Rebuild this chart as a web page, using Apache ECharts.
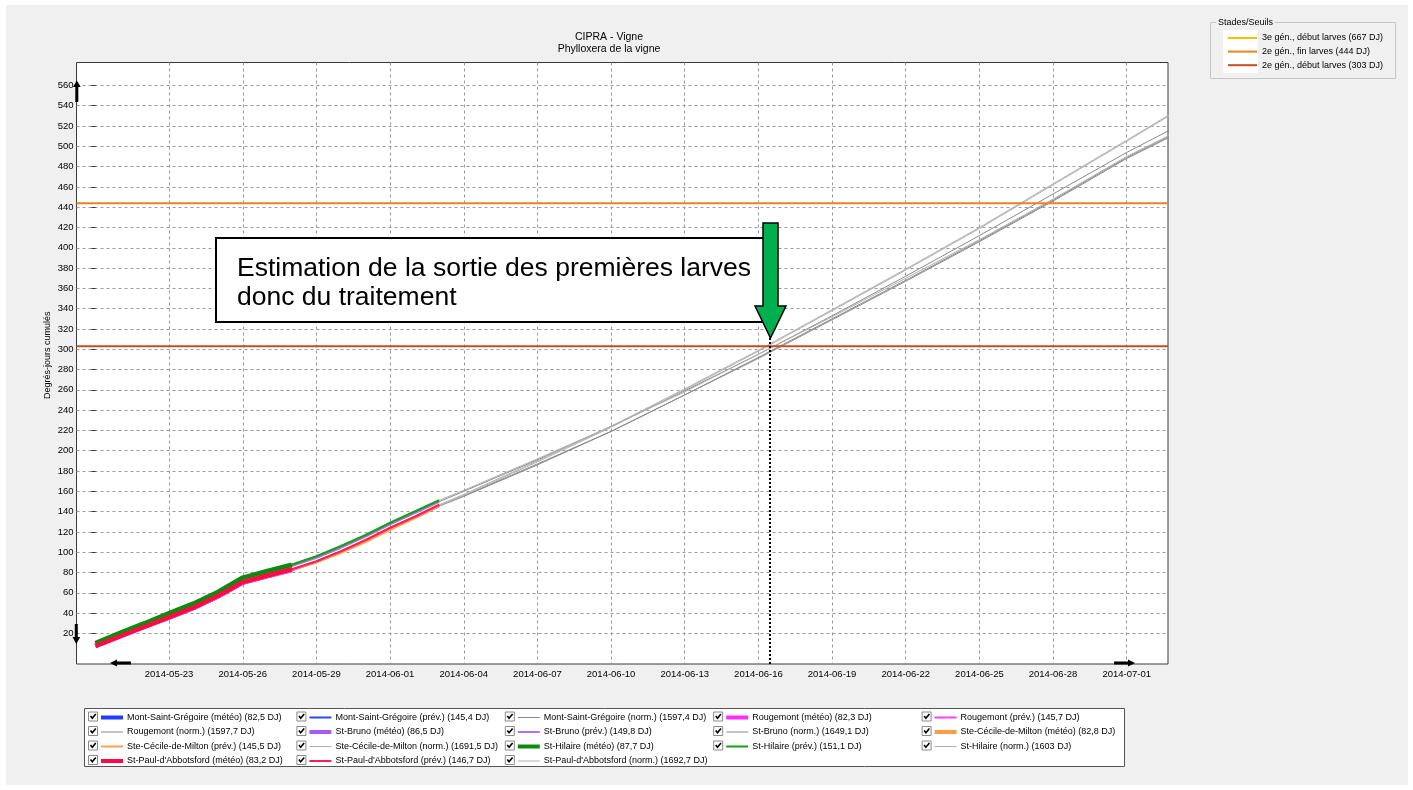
<!DOCTYPE html>
<html><head><meta charset="utf-8">
<script src="https://cdn.jsdelivr.net/npm/echarts@6/dist/echarts.min.js"></script>
<style>html,body{margin:0;padding:0;background:#fff;}#c{width:1413px;height:790px;}</style>
</head><body><div id="c"></div>
<script>
// ---------- DATA ----------
const stations = ['Mont-Saint-Grégoire', 'Rougemont', 'St-Bruno', 'Ste-Cécile-de-Milton', 'St-Hilaire', "St-Paul-d'Abbotsford"];
const meteoDates = ['2014-05-20','2014-05-21','2014-05-22','2014-05-23','2014-05-24','2014-05-25','2014-05-26','2014-05-27','2014-05-28'];
const prevDates  = ['2014-05-28','2014-05-29','2014-05-30','2014-05-31','2014-06-01','2014-06-02','2014-06-03'];
const normDates  = ['2014-06-03','2014-06-04','2014-06-07','2014-06-10','2014-06-13','2014-06-16','2014-06-19','2014-06-22','2014-06-25','2014-06-28','2014-07-01','2014-07-03'];

const meteoMSG   = [8, 17.5, 26.5, 35.5, 45, 56.5, 70, 76.5, 82.5];
const meteoRoug  = [8, 17.5, 26.5, 36, 45, 56.5, 70, 76.5, 82.3];
const meteoBruno = [10, 20, 29.5, 39, 48.5, 60, 73.5, 80.5, 86.5];
const meteoCecile= [8, 17.5, 27, 36, 45.5, 57, 70.5, 77, 82.8];
const meteoHil   = [10.5, 20.5, 30, 40, 49.5, 61, 75, 81.5, 87.7];
const meteoPaul  = [7.5, 17, 26.5, 36, 45.5, 57, 70.5, 77, 83.2];

const prevMSG    = [82.5, 90.5, 100.5, 111, 123, 134, 145.4];
const prevRoug   = [82.3, 90.5, 100.5, 111, 123, 134.5, 145.7];
const prevBruno  = [86.5, 94.5, 104.5, 115.5, 127.5, 138.5, 149.8];
const prevCecile = [82.8, 90, 99.5, 110, 122, 133.5, 145.5];
const prevHil    = [87.7, 96, 106, 117, 129, 140, 151.1];
const prevPaul   = [83.2, 91, 101, 112, 124, 135, 146.7];

const normMSG    = [145.4, 155, 186, 219, 255, 291, 329, 367, 406, 446, 488, 512];
const normRoug   = [145.7, 155.5, 187, 219, 255, 292, 330, 368, 407, 447, 489, 513];
const normBruno  = [149.8, 160, 191, 224, 259, 295, 333, 372, 412, 453, 494, 519];
const normCecile = [145.5, 156, 189, 223, 260, 298, 338, 378, 419, 462, 505, 534];
const normHil    = [151.1, 161, 192, 224, 258, 295, 332, 370, 408, 448, 490, 514];
const normPaul   = [146.7, 157, 190, 224, 261, 299, 339, 379, 420, 463, 506, 535];

const meteoTotals = ['82,5', '82,3', '86,5', '82,8', '87,7', '83,2'];
const prevTotals  = ['145,4', '145,7', '149,8', '145,5', '151,1', '146,7'];
const normTotals  = ['1597,4', '1597,7', '1649,1', '1691,5', '1603', '1692,7'];

const thresholdNames  = ['3e gén., début larves (667 DJ)', '2e gén., fin larves (444 DJ)', '2e gén., début larves (303 DJ)'];
const thresholdValues = [667, 444, 303];

const xTickLabels = ['2014-05-23','2014-05-26','2014-05-29','2014-06-01','2014-06-04','2014-06-07','2014-06-10','2014-06-13','2014-06-16','2014-06-19','2014-06-22','2014-06-25','2014-06-28','2014-07-01'];
const yTicks = [20,40,60,80,100,120,140,160,180,200,220,240,260,280,300,320,340,360,380,400,420,440,460,480,500,520,540,560];

const xRange = ['2014-05-19T05:30', '2014-07-02T16:20'];
const markerDate = '2014-06-16T11:00';
const markerTop = 311;

// ---------- STYLES ----------
const meteoColors = ['#1f3cff', '#ff2dff', '#a45cf2', '#ff9d45', '#0c8a0c', '#ff0a46'];
const prevColors  = ['#2646ff', '#ff3cff', '#b070f5', '#ffa050', '#14a014', '#ff1e50'];
const normColors  = ['#8a8a8a', '#8a8a8a', '#8a8a8a', '#b0b0b0', '#b0b0b0', '#b0b0b0'];
const thresholdColors = ['#f2c200', '#f08026', '#c44f1c'];

const FONT = '"Liberation Sans", Arial, sans-serif';
const BASE = Date.UTC(2014, 4, 20);
function dayNum(s) {
  const [d, t] = s.split('T');
  const [y, m, dd] = d.split('-').map(Number);
  let v = (Date.UTC(y, m - 1, dd) - BASE) / 86400000;
  if (t) { const [hh, mm] = t.split(':').map(Number); v += (hh + mm / 60) / 24; }
  return v;
}
function dayStr(v) {
  const dt = new Date(BASE + Math.round(v) * 86400000);
  const p = n => String(n).padStart(2, '0');
  return dt.getUTCFullYear() + '-' + p(dt.getUTCMonth() + 1) + '-' + p(dt.getUTCDate());
}
const xMin = dayNum(xRange[0]), xMax = dayNum(xRange[1]);
const yMin = -10.2, yMax = 582.6;

const meteoVals = [meteoMSG, meteoRoug, meteoBruno, meteoCecile, meteoHil, meteoPaul];
const prevVals  = [prevMSG, prevRoug, prevBruno, prevCecile, prevHil, prevPaul];
const normVals  = [normMSG, normRoug, normBruno, normCecile, normHil, normPaul];

const series = [];
const legendItems = [];
stations.forEach((st, i) => {
  const defs = [
    {name: st + ' (météo) (' + meteoTotals[i] + ' DJ)', dates: meteoDates, vals: meteoVals[i], color: meteoColors[i], w: 4.5, icon: 4},
    {name: st + ' (prév.) (' + prevTotals[i] + ' DJ)', dates: prevDates, vals: prevVals[i], color: prevColors[i], w: 2.2, icon: 2},
    {name: st + ' (norm.) (' + normTotals[i] + ' DJ)', dates: normDates, vals: normVals[i], color: normColors[i], w: 1, icon: 1}
  ];
  defs.forEach(d => {
    series.push({
      name: d.name, type: 'line', symbol: 'none', showSymbol: false, animation: false,
      color: d.color, itemStyle: {color: d.color},
      lineStyle: {color: d.color, width: d.w},
      data: d.dates.map((dt, k) => [dayNum(dt), d.vals[k]]),
      z: 3
    });
    legendItems.push({name: d.name, icon: 'path://M0,0H22V' + d.icon + 'H0Z'});
  });
});
thresholdNames.forEach((n, i) => {
  series.push({
    name: n, type: 'line', symbol: 'none', showSymbol: false, animation: false,
    color: thresholdColors[i], itemStyle: {color: thresholdColors[i]},
    lineStyle: {color: thresholdColors[i], width: 2},
    data: [[xMin, thresholdValues[i]], [xMax, thresholdValues[i]]],
    z: 4
  });
});
series.push({
  name: 'marker', type: 'line', data: [], animation: false,
  markLine: {
    silent: true, symbol: 'none', label: {show: false},
    lineStyle: {color: '#000', width: 2, type: [2, 2]},
    data: [[{coord: [dayNum(markerDate), markerTop]}, {coord: [dayNum(markerDate), yMin]}]]
  },
  z: 5
});

// legends (5 columns)
const COLS = 5, COL_W = 208.4, LEG_X = 101, ROW_Y0 = 716, ROW_H = 14.5;
const legends = [];
for (let c = 0; c < COLS; c++) {
  legends.push({
    orient: 'vertical', left: LEG_X + c * COL_W, top: ROW_Y0 - 3, padding: 0,
    itemWidth: 22, itemHeight: 9, itemGap: ROW_H - 9,
    selectedMode: false, itemStyle: {borderWidth: 0},
    textStyle: {fontFamily: FONT, fontSize: 9, color: '#000', lineHeight: 9, padding: [0, 0, 0, -1]},
    data: legendItems.filter((_, i) => i % COLS === c)
  });
}
legends.push({
  orient: 'vertical', left: 1228, top: 33.5, padding: 0, itemWidth: 29, itemHeight: 9, itemGap: 4.6,
  selectedMode: false, itemStyle: {borderWidth: 0},
  textStyle: {fontFamily: FONT, fontSize: 9, color: '#000', lineHeight: 9},
  data: thresholdNames.map(n => ({name: n, icon: 'path://M0,0H29V2H0Z'}))
});

// graphics
const graphics = [
  {type: 'rect', z: -10, shape: {x: 6, y: 5, width: 1402, height: 780}, style: {fill: '#f0f0f0'}},
  {type: 'rect', z: -5, shape: {x: 84.5, y: 708.5, width: 1040, height: 58}, style: {fill: '#fff', stroke: '#555', lineWidth: 1}},
  {type: 'rect', z: -5, shape: {x: 1210.5, y: 22.5, width: 185, height: 56}, style: {fill: 'none', stroke: '#c6c6c6', lineWidth: 1}},
  {type: 'rect', z: -4, shape: {x: 1223, y: 30, width: 35, height: 43}, style: {fill: '#fff'}},
  {type: 'text', z: 10, x: 1216, y: 22.5, style: {text: 'Stades/Seuils', font: '9px ' + FONT, fill: '#000', verticalAlign: 'middle', backgroundColor: '#f0f0f0', padding: [0, 2]}},
  {type: 'rect', z: 20, shape: {x: 216, y: 238, width: 552, height: 84}, style: {fill: '#fff', stroke: '#000', lineWidth: 2}},
  {type: 'text', z: 21, x: 237, y: 253.5, style: {text: 'Estimation de la sortie des premières larves\ndonc du traitement', font: '26.5px ' + FONT, fill: '#000', lineHeight: 29.5, verticalAlign: 'top'}},
  {type: 'polygon', z: 22, shape: {points: [[763, 223], [778, 223], [778, 306], [786, 306], [770.5, 338], [755, 306], [763, 306]]}, style: {fill: '#00b050', stroke: '#000', lineWidth: 1.5}},
  {type: 'polygon', z: 15, shape: {points: [[75.3, 102], [78.3, 102], [78.3, 87], [80.7, 87], [76.8, 80.5], [73, 87], [75.3, 87]]}, style: {fill: '#000'}},
  {type: 'polygon', z: 15, shape: {points: [[74.8, 624], [77.8, 624], [77.8, 637], [80.2, 637], [76.3, 644], [72.5, 637], [74.8, 637]]}, style: {fill: '#000'}},
  {type: 'polygon', z: 15, shape: {points: [[131, 661.5], [131, 664.5], [117, 664.5], [117, 666.5], [110, 663], [117, 659.5], [117, 661.5]]}, style: {fill: '#000'}},
  {type: 'polygon', z: 15, shape: {points: [[1114, 661.5], [1114, 664.5], [1128, 664.5], [1128, 666.5], [1135, 663], [1128, 659.5], [1128, 661.5]]}, style: {fill: '#000'}}
];
legendItems.forEach((it, i) => {
  const c = i % COLS, r = Math.floor(i / COLS);
  const x = 88 + c * COL_W, y = ROW_Y0 + r * ROW_H - 4.5;
  graphics.push({type: 'rect', z: 10, shape: {x: x + 0.5, y: y + 0.5, width: 9, height: 9}, style: {fill: '#fff', stroke: '#8a8a8a', lineWidth: 1}});
  graphics.push({type: 'polyline', z: 11, shape: {points: [[x + 2.5, y + 4.5], [x + 4.3, y + 6.8], [x + 7.8, y + 2.6]]}, style: {stroke: '#000', lineWidth: 1.6, fill: 'none'}});
});

const chart = echarts.init(document.getElementById('c'), null, {renderer: 'canvas'});
chart.setOption({
  backgroundColor: '#fff',
  animation: false,
  title: {
    text: 'CIPRA - Vigne\nPhylloxera de la vigne', left: 604, top: 26, textAlign: 'center',
    textStyle: {fontFamily: FONT, fontSize: 10.5, fontWeight: 'normal', color: '#000', lineHeight: 12}
  },
  grid: {left: 76.5, top: 62.5, width: 1091.5, height: 601.5, show: true, backgroundColor: '#fff', borderColor: '#3a3a3a', borderWidth: 1},
  legend: legends,
  xAxis: {
    type: 'value', min: xMin, max: xMax,
    axisLine: {show: false},
    axisTick: {show: false, customValues: xTickLabels.map(dayNum)},
    axisLabel: {customValues: xTickLabels.map(dayNum), formatter: v => dayStr(v), fontFamily: FONT, fontSize: 9.5, color: '#000', margin: 5},
    splitLine: {show: true, lineStyle: {color: '#9a9a9a', type: [3, 3], width: 1}}
  },
  yAxis: {
    type: 'value', min: yMin, max: yMax,
    name: 'Degrés-jours cumulés', nameLocation: 'middle', nameGap: 24, nameRotate: 90, nameMoveOverlap: false,
    nameTextStyle: {fontFamily: FONT, fontSize: 9, color: '#000', padding: [0, 0, 0, 16]},
    axisLine: {show: false},
    axisTick: {show: true, length: 4, customValues: yTicks, lineStyle: {color: '#333'}},
    axisLabel: {customValues: yTicks, fontFamily: FONT, fontSize: 9.5, color: '#000', margin: 3},
    splitLine: {show: true, lineStyle: {color: '#9a9a9a', type: [3, 3], width: 1}}
  },
  series: series,
  graphic: graphics
});
</script></body></html>
